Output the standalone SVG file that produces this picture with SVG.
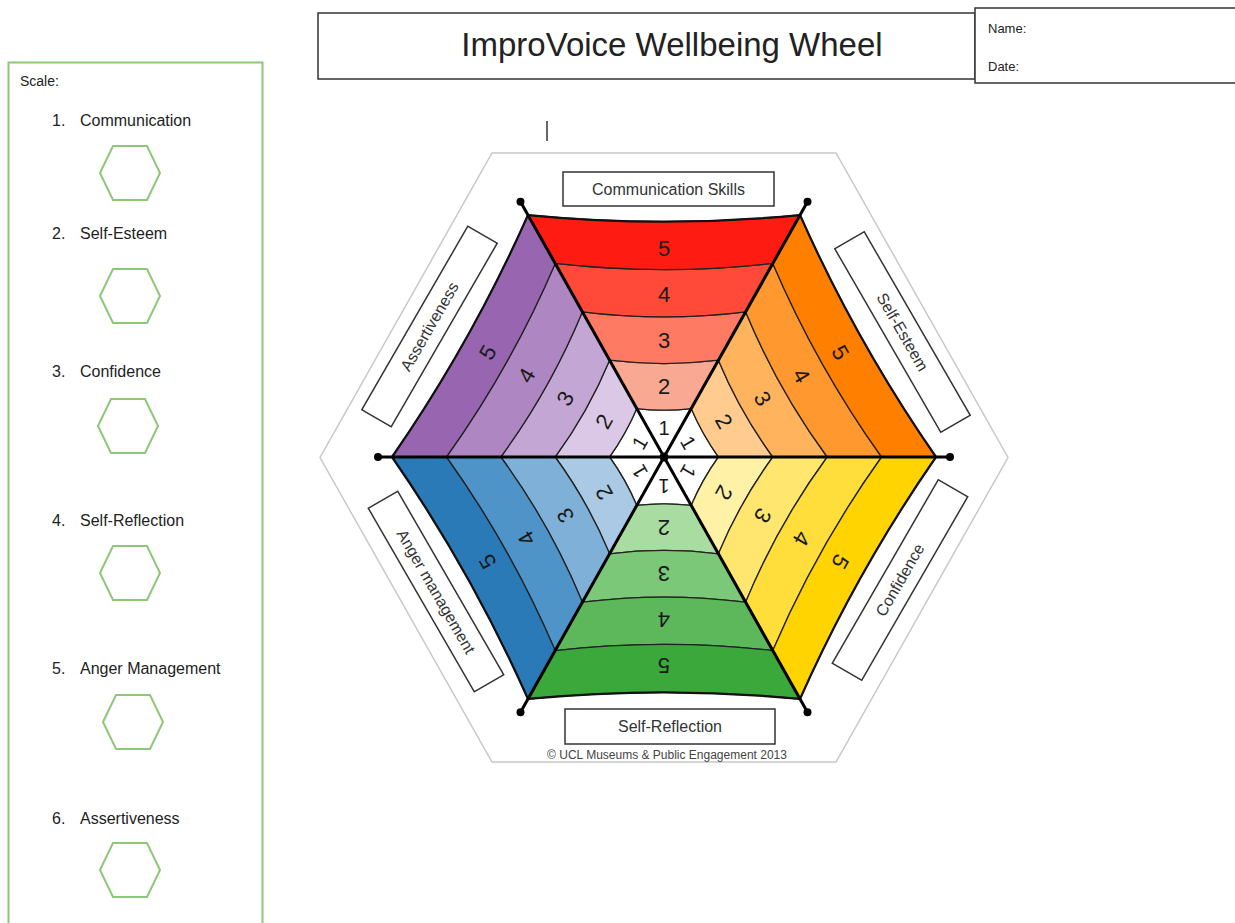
<svg xmlns="http://www.w3.org/2000/svg" xmlns:xlink="http://www.w3.org/1999/xlink" width="1235" height="923" viewBox="0 0 1235 923">
<style>
  text { font-family: "Liberation Sans", Arial, sans-serif; fill: #222; }
  .box { fill: #fff; stroke: #333; stroke-width: 1.5; }
  .panel { fill: #fff; stroke: #8cc878; stroke-width: 2; }
  .hex { fill: none; stroke: #8cc878; stroke-width: 2; }
  .item { font-size: 16px; }
  .lbl { font-size: 16px; text-anchor: middle; fill: #333; }
  .num { font-size: 22px; text-anchor: middle; fill: #1a1a1a; }
  .one { font-size: 20px; }
  .band { stroke: #222; stroke-width: 1.3; stroke-linejoin: round; }
  .rim { fill: none; stroke: #111; stroke-width: 2.2; }
  .spoke { stroke: #000; stroke-width: 3; stroke-linecap: round; }
  .dot { fill: #000; }
</style>
<defs>
  <!-- one sector of the wheel, centred on the origin, pointing up -->
  <path id="b1" d="M0,0 L-27.2,-47.11 Q0,-44.11 27.2,-47.11 Z"/>
  <path id="b2" d="M-27.2,-47.11 L-54.4,-94.22 Q0,-87.72 54.4,-94.22 L27.2,-47.11 Q0,-44.11 -27.2,-47.11 Z"/>
  <path id="b3" d="M-54.4,-94.22 L-81.6,-141.34 Q0,-131.34 81.6,-141.34 L54.4,-94.22 Q0,-87.72 -54.4,-94.22 Z"/>
  <path id="b4" d="M-81.6,-141.34 L-108.8,-188.45 Q0,-176.45 108.8,-188.45 L81.6,-141.34 Q0,-131.34 -81.6,-141.34 Z"/>
  <path id="b5" d="M-108.8,-188.45 L-136,-235.56 Q0,-222.56 136,-235.56 L108.8,-188.45 Q0,-176.45 -108.8,-188.45 Z"/>
  <path id="rimEdge" d="M-136,-235.56 Q0,-222.56 136,-235.56"/>
  <g id="nums">
    <text class="num one" x="0" y="-21">1</text>
    <text class="num" x="0" y="-61.7">2</text>
    <text class="num" x="0" y="-106.4">3</text>
    <text class="num" x="0" y="-151.2">4</text>
    <text class="num" x="0" y="-196">5</text>
  </g>
  <polygon id="smallHex" points="-30,0 -17,-27 17,-27 30,0 17,27 -17,27"/>
</defs>

<rect width="1235" height="923" fill="#fff"/>

<!-- heading -->
<g id="title">
  <rect class="box" x="318" y="13" width="657" height="66"/>
  <text x="672" y="56" font-size="33" text-anchor="middle">ImproVoice Wellbeing Wheel</text>
</g>
<g id="name-date">
  <rect class="box" x="975" y="8" width="270" height="75"/>
  <text x="988" y="33" font-size="13">Name:</text>
  <text x="988" y="71" font-size="13">Date:</text>
</g>
<line id="cursor" x1="547" y1="121" x2="547" y2="141" stroke="#333" stroke-width="1.5"/>

<!-- scale list -->
<g id="scale-panel">
  <rect class="panel" x="8.5" y="62.5" width="254" height="880"/>
  <text x="20" y="86" font-size="14">Scale:</text>
  <g id="scale-1">
    <text class="item" x="52" y="126">1.</text><text class="item" x="80" y="126">Communication</text>
    <use href="#smallHex" class="hex" x="130" y="173"/>
  </g>
  <g id="scale-2">
    <text class="item" x="52" y="239">2.</text><text class="item" x="80" y="239">Self-Esteem</text>
    <use href="#smallHex" class="hex" x="130" y="296"/>
  </g>
  <g id="scale-3">
    <text class="item" x="52" y="377">3.</text><text class="item" x="80" y="377">Confidence</text>
    <use href="#smallHex" class="hex" x="128" y="426"/>
  </g>
  <g id="scale-4">
    <text class="item" x="52" y="526">4.</text><text class="item" x="80" y="526">Self-Reflection</text>
    <use href="#smallHex" class="hex" x="130" y="573"/>
  </g>
  <g id="scale-5">
    <text class="item" x="52" y="674">5.</text><text class="item" x="80" y="674">Anger Management</text>
    <use href="#smallHex" class="hex" x="133" y="722"/>
  </g>
  <g id="scale-6">
    <text class="item" x="52" y="824">6.</text><text class="item" x="80" y="824">Assertiveness</text>
    <use href="#smallHex" class="hex" x="130" y="870"/>
  </g>
</g>

<!-- wheel frame -->
<polygon id="frame" points="492,153 836,153 1008,457.5 836,762 492,762 320,457.5" fill="#fff" stroke="#c8c8c8" stroke-width="1.5"/>

<!-- wheel sectors -->
<g id="wedge-communication" transform="translate(664 457) scale(1 1.0273)">
  <use href="#b1" class="band" fill="#ffffff"/>
  <use href="#b2" class="band" fill="#f9a891"/>
  <use href="#b3" class="band" fill="#ff7a62"/>
  <use href="#b4" class="band" fill="#ff4a3a"/>
  <use href="#b5" class="band" fill="#fe1c12"/>
  <use href="#rimEdge" class="rim"/>
  <use href="#nums"/>
</g>
<g id="wedge-self-esteem" transform="translate(664 457) scale(1 1.0273) rotate(60)">
  <use href="#b1" class="band" fill="#ffffff"/>
  <use href="#b2" class="band" fill="#ffcb8e"/>
  <use href="#b3" class="band" fill="#ffb35c"/>
  <use href="#b4" class="band" fill="#ff982e"/>
  <use href="#b5" class="band" fill="#ff7f00"/>
  <use href="#rimEdge" class="rim"/>
  <use href="#nums"/>
</g>
<g id="wedge-confidence" transform="translate(664 457) scale(1 1.0273) rotate(120)">
  <use href="#b1" class="band" fill="#ffffff"/>
  <use href="#b2" class="band" fill="#fff1a6"/>
  <use href="#b3" class="band" fill="#ffe66e"/>
  <use href="#b4" class="band" fill="#ffdd3a"/>
  <use href="#b5" class="band" fill="#ffd400"/>
  <use href="#rimEdge" class="rim"/>
  <use href="#nums"/>
</g>
<g id="wedge-self-reflection" transform="translate(664 457) scale(1 1.0273) rotate(180)">
  <use href="#b1" class="band" fill="#ffffff"/>
  <use href="#b2" class="band" fill="#a8dca0"/>
  <use href="#b3" class="band" fill="#7cc879"/>
  <use href="#b4" class="band" fill="#5cb85a"/>
  <use href="#b5" class="band" fill="#3aa83a"/>
  <use href="#rimEdge" class="rim"/>
  <use href="#nums"/>
</g>
<g id="wedge-anger-management" transform="translate(664 457) scale(1 1.0273) rotate(240)">
  <use href="#b1" class="band" fill="#ffffff"/>
  <use href="#b2" class="band" fill="#a9c9e4"/>
  <use href="#b3" class="band" fill="#7fb0d8"/>
  <use href="#b4" class="band" fill="#4f94c8"/>
  <use href="#b5" class="band" fill="#2a7ab8"/>
  <use href="#rimEdge" class="rim"/>
  <use href="#nums"/>
</g>
<g id="wedge-assertiveness" transform="translate(664 457) scale(1 1.0273) rotate(300)">
  <use href="#b1" class="band" fill="#ffffff"/>
  <use href="#b2" class="band" fill="#dac8e6"/>
  <use href="#b3" class="band" fill="#c4a6d4"/>
  <use href="#b4" class="band" fill="#ae86c2"/>
  <use href="#b5" class="band" fill="#9865b0"/>
  <use href="#rimEdge" class="rim"/>
  <use href="#nums"/>
</g>

<!-- spokes through the centre, ending in dots -->
<g id="spokes">
  <line class="spoke" x1="520.5" y1="201.7" x2="807.5" y2="712.3"/>
  <line class="spoke" x1="807.5" y1="201.7" x2="520.5" y2="712.3"/>
  <line class="spoke" x1="378" y1="457" x2="950" y2="457"/>
  <circle class="dot" cx="664" cy="457" r="4.5"/>
  <circle class="dot" cx="520.5" cy="201.7" r="4"/>
  <circle class="dot" cx="807.5" cy="201.7" r="4"/>
  <circle class="dot" cx="950" cy="457" r="4"/>
  <circle class="dot" cx="807.5" cy="712.3" r="4"/>
  <circle class="dot" cx="520.5" cy="712.3" r="4"/>
  <circle class="dot" cx="378" cy="457" r="4"/>
</g>

<!-- sector captions -->
<g id="label-communication">
  <rect class="box" x="563" y="172" width="211" height="34"/>
  <text class="lbl" x="668.5" y="194.5">Communication Skills</text>
</g>
<g id="label-self-esteem" transform="translate(902.5 332) rotate(60)">
  <rect class="box" x="-106" y="-17" width="212" height="34"/>
  <text class="lbl" x="0" y="5.5">Self-Esteem</text>
</g>
<g id="label-confidence" transform="translate(900 580) rotate(-60)">
  <rect class="box" x="-106" y="-17" width="212" height="34"/>
  <text class="lbl" x="0" y="5.5">Confidence</text>
</g>
<g id="label-self-reflection">
  <rect class="box" x="565" y="709" width="210" height="35"/>
  <text class="lbl" x="670" y="732">Self-Reflection</text>
</g>
<g id="label-anger-management" transform="translate(436 591.5) rotate(60)">
  <rect class="box" x="-106" y="-17" width="212" height="34"/>
  <text class="lbl" x="0" y="5.5">Anger management</text>
</g>
<g id="label-assertiveness" transform="translate(429.5 326.5) rotate(-60)">
  <rect class="box" x="-106" y="-17" width="212" height="34"/>
  <text class="lbl" x="0" y="5.5">Assertiveness</text>
</g>

<text id="copyright" x="667" y="759" font-size="12" text-anchor="middle" style="fill:#444">© UCL Museums &amp; Public Engagement 2013</text>
</svg>
